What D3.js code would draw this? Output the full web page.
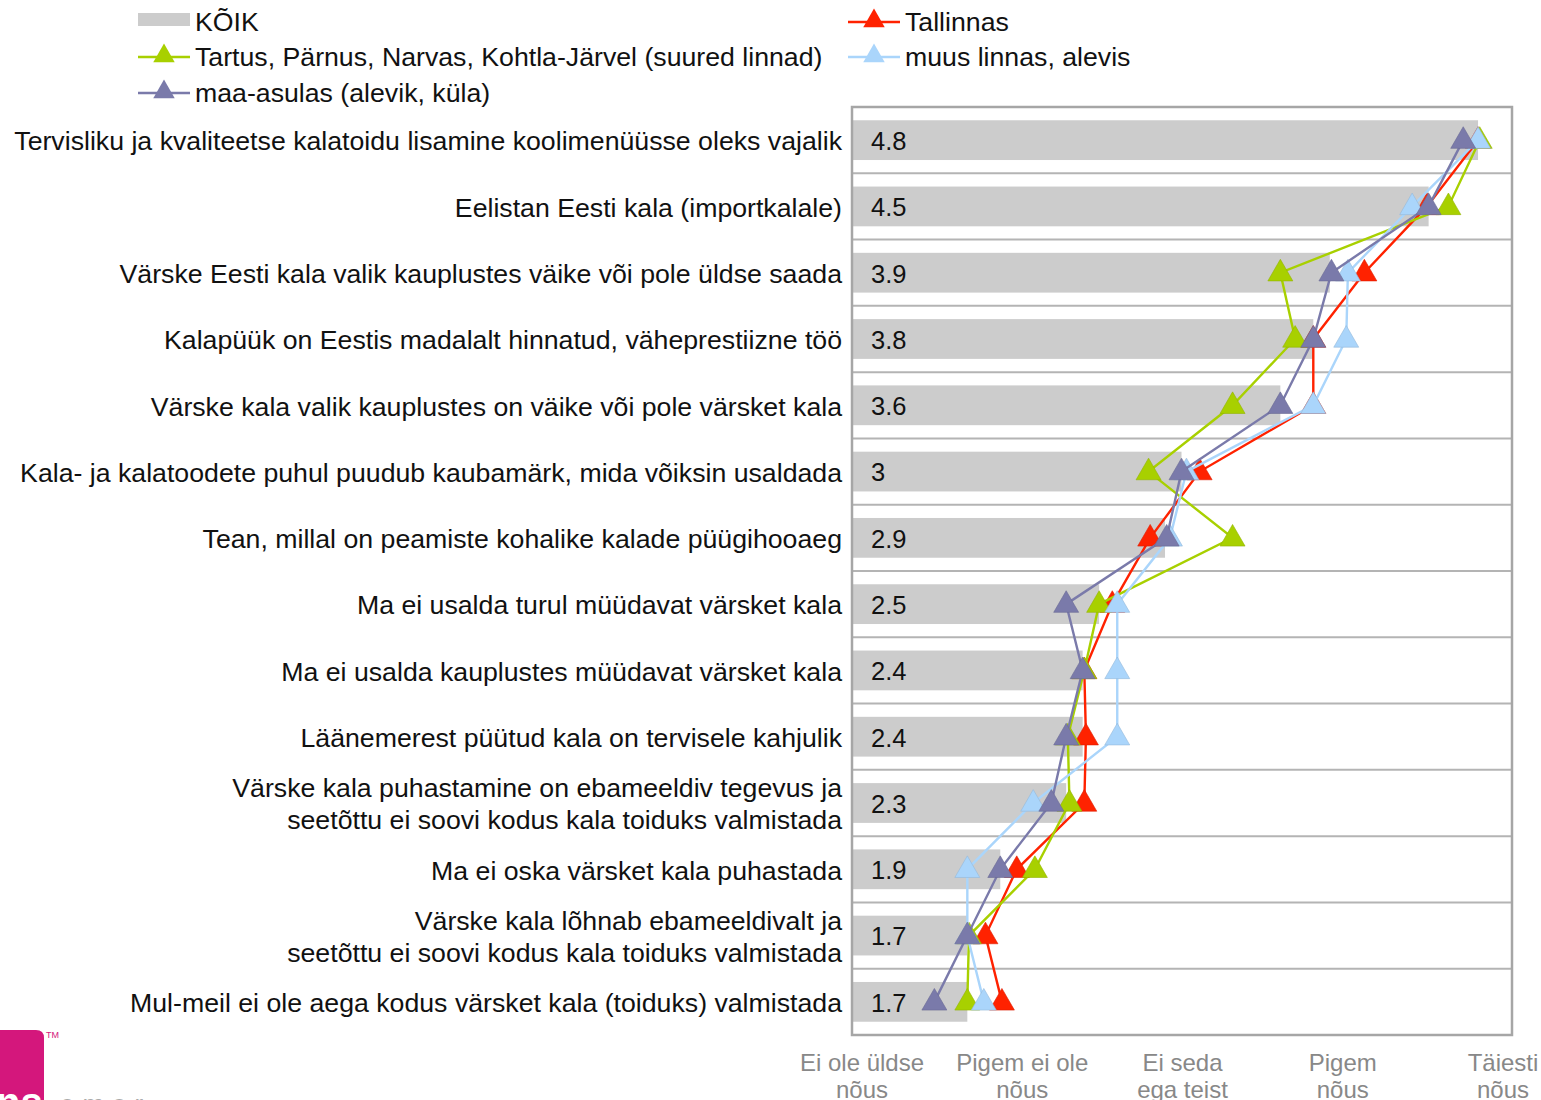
<!DOCTYPE html>
<html>
<head>
<meta charset="utf-8">
<script src="https://cdn.jsdelivr.net/npm/d3@7"></script>
<style>
  html, body { margin: 0; padding: 0; background: #fff; }
  svg { display: block; font-family: "Liberation Sans", Arial, sans-serif; }
</style>
</head>
<body>
<svg id="chart" width="1541" height="1100"></svg>
<script>
// Statements (top to bottom), each line of a label is one array entry
const categories = [
  ["Tervisliku ja kvaliteetse kalatoidu lisamine koolimenüüsse oleks vajalik"],
  ["Eelistan Eesti kala (importkalale)"],
  ["Värske Eesti kala valik kauplustes väike või pole üldse saada"],
  ["Kalapüük on Eestis madalalt hinnatud, väheprestiizne töö"],
  ["Värske kala valik kauplustes on väike või pole värsket kala"],
  ["Kala- ja kalatoodete puhul puudub kaubamärk, mida võiksin usaldada"],
  ["Tean, millal on peamiste kohalike kalade püügihooaeg"],
  ["Ma ei usalda turul müüdavat värsket kala"],
  ["Ma ei usalda kauplustes müüdavat värsket kala"],
  ["Läänemerest püütud kala on tervisele kahjulik"],
  ["Värske kala puhastamine on ebameeldiv tegevus ja", "seetõttu ei soovi kodus kala toiduks valmistada"],
  ["Ma ei oska värsket kala puhastada"],
  ["Värske kala lõhnab ebameeldivalt ja", "seetõttu ei soovi kodus kala toiduks valmistada"],
  ["Mul-meil ei ole aega kodus värsket kala (toiduks) valmistada"]
];

// Average agreement, 1 = disagree fully ... 5 = agree fully
const koik      = [4.8, 4.5, 3.9, 3.8, 3.6, 3.0, 2.9, 2.5, 2.4, 2.4, 2.3, 1.9, 1.7, 1.7];
const tallinnas = [4.80, 4.49, 4.11, 3.80, 3.80, 3.11, 2.81, 2.58, 2.41, 2.42, 2.41, 2.00, 1.81, 1.91];
const suuredLinnad = [4.81, 4.62, 3.60, 3.69, 3.31, 2.80, 3.31, 2.50, 2.41, 2.31, 2.32, 2.11, 1.71, 1.70];
const muusLinnas = [4.80, 4.40, 4.01, 4.00, 3.80, 3.03, 2.93, 2.61, 2.61, 2.61, 2.10, 1.70, 1.70, 1.80];
const maaAsulas = [4.71, 4.50, 3.91, 3.80, 3.60, 3.00, 2.91, 2.30, 2.40, 2.30, 2.21, 1.90, 1.70, 1.50];

const barLabels = ["4.8", "4.5", "3.9", "3.8", "3.6", "3", "2.9", "2.5", "2.4", "2.4", "2.3", "1.9", "1.7", "1.7"];

const scaleLabels = [
  ["Ei ole üldse", "nõus"],
  ["Pigem ei ole", "nõus"],
  ["Ei seda", "ega teist"],
  ["Pigem", "nõus"],
  ["Täiesti", "nõus"]
];

const series = [
  { name: "Tallinnas", values: tallinnas, color: "#ff2200" },
  { name: "Tartus, Pärnus, Narvas, Kohtla-Järvel (suured linnad)", values: suuredLinnad, color: "#a8d000" },
  { name: "muus linnas, alevis", values: muusLinnas, color: "#aad5fb" },
  { name: "maa-asulas (alevik, küla)", values: maaAsulas, color: "#7a7aaa" }
];

const svg = d3.select("#chart");
const plot = { left: 852, right: 1512, top: 107, bottom: 1035 };

const x = d3.scaleLinear().domain([1, 5]).range([plot.left, 1511]);
const y = d3.scaleBand()
  .domain(d3.range(categories.length))
  .range([plot.top, plot.bottom])
  .paddingInner(0.4)
  .paddingOuter(0.2);
const yc = i => y(i) + y.bandwidth() / 2;
const step = y.step();

// horizontal separators between statements
svg.append("g").selectAll("line")
  .data(d3.range(1, categories.length))
  .join("line")
  .attr("x1", plot.left).attr("x2", plot.right)
  .attr("y1", i => y(i) - step * 0.2).attr("y2", i => y(i) - step * 0.2)
  .attr("stroke", "#b4b4b4").attr("stroke-width", 2);

// overall average bars
svg.append("g").selectAll("rect")
  .data(koik)
  .join("rect")
  .attr("x", x(1))
  .attr("y", (d, i) => y(i))
  .attr("width", d => x(d) - x(1))
  .attr("height", y.bandwidth())
  .attr("fill", "#cccccc");

// plot frame
svg.append("rect")
  .attr("x", plot.left).attr("y", plot.top)
  .attr("width", plot.right - plot.left).attr("height", plot.bottom - plot.top)
  .attr("fill", "none").attr("stroke", "#a6a6a6").attr("stroke-width", 2.5);

// bar value labels
svg.append("g").selectAll("text")
  .data(barLabels)
  .join("text")
  .attr("x", 871)
  .attr("y", (d, i) => yc(i) + 1)
  .attr("dy", "0.35em")
  .attr("font-size", 25.5)
  .attr("fill", "#111")
  .text(d => d);

// statement labels
const catG = svg.append("g").attr("text-anchor", "end").attr("font-size", 26.7).attr("fill", "#111");
categories.forEach((lines, i) => {
  const t = catG.append("text").attr("x", 842);
  const n = lines.length;
  lines.forEach((ln, k) => {
    t.append("tspan")
      .attr("x", 842)
      .attr("y", yc(i) + (k - (n - 1) / 2) * 32 + 1)
      .attr("dy", "0.35em")
      .text(ln);
  });
});

// series lines and triangle markers
const tri = d3.symbol().type(d3.symbolTriangle).size(270);
const line = d3.line().x(d => x(d.v)).y(d => yc(d.i));
series.forEach(s => {
  const pts = s.values.map((v, i) => ({ v, i }));
  const g = svg.append("g");
  g.append("path")
    .attr("d", line(pts))
    .attr("fill", "none")
    .attr("stroke", s.color)
    .attr("stroke-width", 2.4);
  g.selectAll("path.m")
    .data(pts)
    .join("path")
    .attr("class", "m")
    .attr("d", tri)
    .attr("transform", d => `translate(${x(d.v)},${yc(d.i) + 1})`)
    .attr("fill", s.color)
    .attr("stroke", d3.color(s.color).darker(0.4))
    .attr("stroke-width", 0.6);
});

// scale labels under the plot
const sx = d3.scalePoint().domain(d3.range(scaleLabels.length)).range([862, 1503]);
const axG = svg.append("g").attr("text-anchor", "middle").attr("font-size", 24).attr("fill", "#888");
scaleLabels.forEach((lines, i) => {
  lines.forEach((ln, k) => {
    axG.append("text")
      .attr("x", sx(i))
      .attr("y", 1063 + k * 27)
      .attr("dy", "0.35em")
      .text(ln);
  });
});

// legend
const legend = svg.append("g").attr("font-size", 26.7).attr("fill", "#111");
legend.append("rect").attr("x", 138).attr("y", 13).attr("width", 52).attr("height", 13).attr("fill", "#cccccc");
legend.append("text").attr("x", 195).attr("y", 22).attr("dy", "0.35em").text("KÕIK");
const legendPos = [
  { sx: 848, sy: 22 },
  { sx: 138, sy: 57 },
  { sx: 848, sy: 57 },
  { sx: 138, sy: 93 }
];
series.forEach((s, i) => {
  const p = legendPos[i];
  legend.append("line")
    .attr("x1", p.sx).attr("x2", p.sx + 52)
    .attr("y1", p.sy).attr("y2", p.sy)
    .attr("stroke", s.color).attr("stroke-width", 2.4);
  legend.append("path")
    .attr("d", d3.symbol().type(d3.symbolTriangle).size(200)())
    .attr("transform", `translate(${p.sx + 26},${p.sy - 1})`)
    .attr("fill", s.color);
  legend.append("text")
    .attr("x", p.sx + 57).attr("y", p.sy)
    .attr("dy", "0.35em")
    .text(s.name);
});

// company logo in the lower left corner
const logo = svg.append("g");
logo.append("path")
  .attr("d", "M0,1030 H36 Q44,1030 44,1038 V1100 H0 Z")
  .attr("fill", "#d4177c");
logo.append("text")
  .attr("x", 46).attr("y", 1038)
  .attr("font-size", 9).attr("fill", "#d4177c")
  .text("TM");
logo.append("text")
  .attr("x", -4).attr("y", 1116)
  .attr("font-size", 40).attr("font-weight", "bold").attr("fill", "#fff")
  .text("ns");
logo.append("text")
  .attr("x", 60).attr("y", 1113)
  .attr("font-size", 26).attr("fill", "#aaa")
  .attr("letter-spacing", 8)
  .text("emor");
</script>
</body>
</html>
